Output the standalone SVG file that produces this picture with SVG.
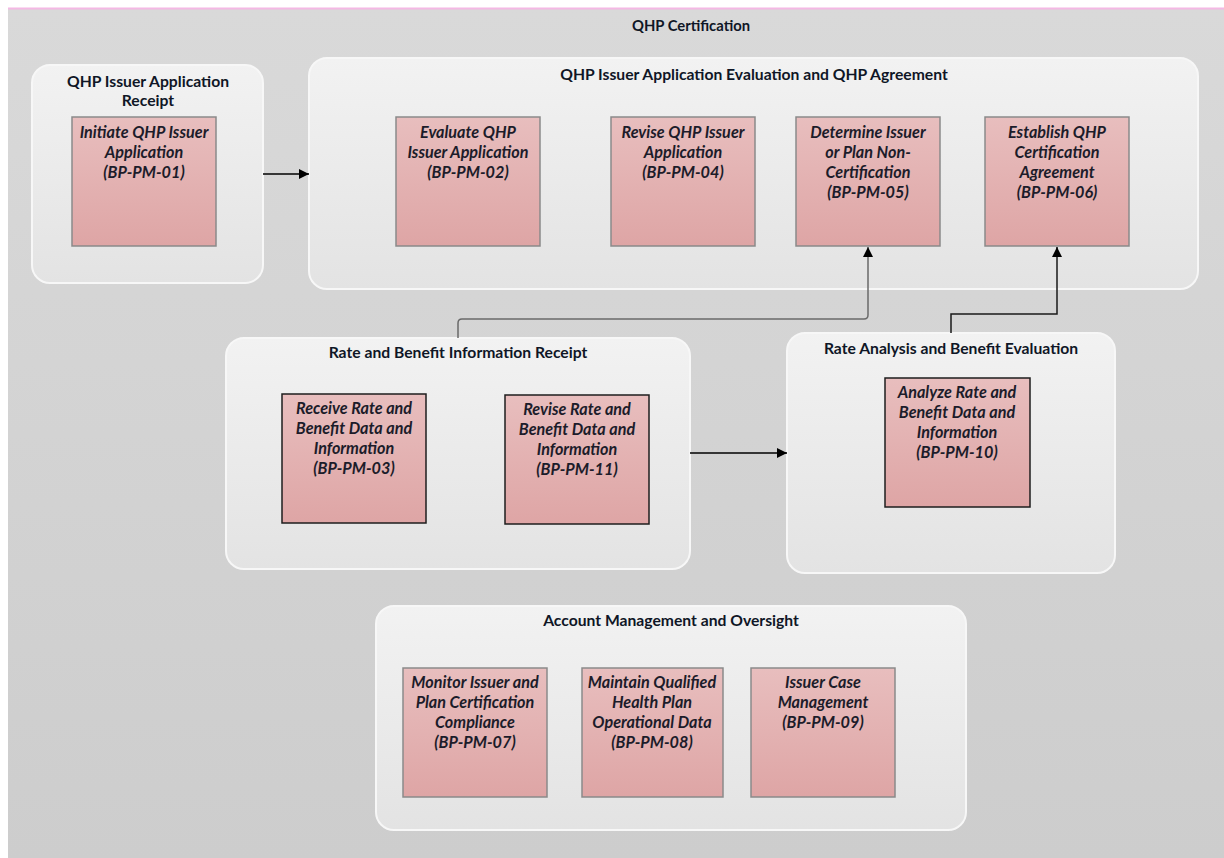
<svg xmlns="http://www.w3.org/2000/svg" width="1224" height="858" viewBox="0 0 1224 858">
<defs>
<linearGradient id="bg" x1="0" y1="0" x2="0" y2="1"><stop offset="0" stop-color="#d9d9d9"/><stop offset="1" stop-color="#cdcdcd"/></linearGradient>
<linearGradient id="grp" x1="0" y1="0" x2="0" y2="1"><stop offset="0" stop-color="#f2f2f2"/><stop offset="1" stop-color="#e3e3e3"/></linearGradient>
<linearGradient id="box" x1="0" y1="0" x2="0" y2="1"><stop offset="0" stop-color="#e8bebe"/><stop offset="1" stop-color="#dea5a5"/></linearGradient>
<marker id="arr" viewBox="0 0 10 10" refX="10" refY="5" markerWidth="10" markerHeight="10" markerUnits="userSpaceOnUse" orient="auto"><path d="M0,0 L10,5 L0,10 Z" fill="#000"/></marker>
<style>
.grp{fill:url(#grp);stroke:#f7f7f7;stroke-width:2}
.box{fill:url(#box);stroke:#8a8a8a;stroke-width:1.5}
.boxd{fill:url(#box);stroke:#1e1e1e;stroke-width:1.5}
.gt{font-family:Lato,"Liberation Sans",sans-serif;font-weight:bold;font-size:15.7px;fill:#0f1626;text-anchor:middle}
.bt{font-family:Lato,"Liberation Sans",sans-serif;font-weight:bold;font-style:italic;font-size:16.2px;fill:#1c1c2a;text-anchor:middle}
.c{fill:none;stroke-width:1.5}
</style>
</defs>
<rect x="0" y="0" width="1224" height="858" fill="#ffffff"/>
<rect x="8" y="9" width="1216" height="849" fill="url(#bg)"/>
<line x1="8" y1="8.5" x2="1224" y2="8.5" stroke="#f4b8e4" stroke-width="2"/>
<text class="gt" x="691" y="31" style="font-size:14.8px">QHP Certification</text>

<g id="g1">
<rect class="grp" x="32" y="65" width="231" height="218" rx="18"/>
<text class="gt" x="148" y="87">QHP Issuer Application</text>
<text class="gt" x="148" y="106">Receipt</text>
</g>
<g id="n01">
<rect class="box" x="72" y="117" width="144" height="129"/>
<text class="bt" x="144" y="138">Initiate QHP Issuer</text>
<text class="bt" x="144" y="158">Application</text>
<text class="bt" x="144" y="178">(BP-PM-01)</text>
</g>

<g id="g2">
<rect class="grp" x="309" y="58" width="889" height="231" rx="18"/>
<text class="gt" x="754" y="80">QHP Issuer Application Evaluation and QHP Agreement</text>
</g>
<g id="n02">
<rect class="box" x="396" y="117" width="144" height="129"/>
<text class="bt" x="468" y="138">Evaluate QHP</text>
<text class="bt" x="468" y="158">Issuer Application</text>
<text class="bt" x="468" y="178">(BP-PM-02)</text>
</g>
<g id="n04">
<rect class="box" x="611" y="117" width="144" height="129"/>
<text class="bt" x="683" y="138">Revise QHP Issuer</text>
<text class="bt" x="683" y="158">Application</text>
<text class="bt" x="683" y="178">(BP-PM-04)</text>
</g>
<g id="n05">
<rect class="box" x="796" y="117" width="144" height="129"/>
<text class="bt" x="868" y="138">Determine Issuer</text>
<text class="bt" x="868" y="158">or Plan Non-</text>
<text class="bt" x="868" y="178">Certification</text>
<text class="bt" x="868" y="198">(BP-PM-05)</text>
</g>
<g id="n06">
<rect class="box" x="985" y="117" width="144" height="129"/>
<text class="bt" x="1057" y="138">Establish QHP</text>
<text class="bt" x="1057" y="158">Certification</text>
<text class="bt" x="1057" y="178">Agreement</text>
<text class="bt" x="1057" y="198">(BP-PM-06)</text>
</g>

<g id="g3">
<rect class="grp" x="226" y="338" width="464" height="231" rx="18"/>
<text class="gt" x="458" y="358">Rate and Benefit Information Receipt</text>
</g>
<g id="n03">
<rect class="boxd" x="282" y="394" width="144" height="129"/>
<text class="bt" x="354" y="414">Receive Rate and</text>
<text class="bt" x="354" y="434">Benefit Data and</text>
<text class="bt" x="354" y="454">Information</text>
<text class="bt" x="354" y="474">(BP-PM-03)</text>
</g>
<g id="n11">
<rect class="boxd" x="505" y="395" width="144" height="129"/>
<text class="bt" x="577" y="415">Revise Rate and</text>
<text class="bt" x="577" y="435">Benefit Data and</text>
<text class="bt" x="577" y="455">Information</text>
<text class="bt" x="577" y="475">(BP-PM-11)</text>
</g>

<g id="g4">
<rect class="grp" x="787" y="333" width="328" height="240" rx="18"/>
<text class="gt" x="951" y="354">Rate Analysis and Benefit Evaluation</text>
</g>
<g id="n10">
<rect class="boxd" x="885" y="378" width="145" height="129"/>
<text class="bt" x="957" y="398">Analyze Rate and</text>
<text class="bt" x="957" y="418">Benefit Data and</text>
<text class="bt" x="957" y="438">Information</text>
<text class="bt" x="957" y="458">(BP-PM-10)</text>
</g>

<g id="g5">
<rect class="grp" x="376" y="606" width="590" height="224" rx="18"/>
<text class="gt" x="671" y="626">Account Management and Oversight</text>
</g>
<g id="n07">
<rect class="box" x="403" y="668" width="144" height="129"/>
<text class="bt" x="475" y="688">Monitor Issuer and</text>
<text class="bt" x="475" y="708">Plan Certification</text>
<text class="bt" x="475" y="728">Compliance</text>
<text class="bt" x="475" y="748">(BP-PM-07)</text>
</g>
<g id="n08">
<rect class="box" x="582" y="668" width="141" height="129"/>
<text class="bt" x="652" y="688">Maintain Qualified</text>
<text class="bt" x="652" y="708">Health Plan</text>
<text class="bt" x="652" y="728">Operational Data</text>
<text class="bt" x="652" y="748">(BP-PM-08)</text>
</g>
<g id="n09">
<rect class="box" x="751" y="668" width="144" height="129"/>
<text class="bt" x="823" y="688">Issuer Case</text>
<text class="bt" x="823" y="708">Management</text>
<text class="bt" x="823" y="728">(BP-PM-09)</text>
</g>

<g id="connectors">
<line class="c" x1="263" y1="174" x2="309" y2="174" stroke="#000" marker-end="url(#arr)"/>
<line class="c" x1="690" y1="453" x2="787" y2="453" stroke="#000" marker-end="url(#arr)"/>
<path class="c" d="M458,338 L458,323 Q458,319 462,319 L864,319 Q868,319 868,315 L868,247" stroke="#6a6a6a" marker-end="url(#arr)"/>
<path class="c" d="M951,333 L951,314 L1057,314 L1057,247" stroke="#1a1a1a" marker-end="url(#arr)"/>
</g>
</svg>
